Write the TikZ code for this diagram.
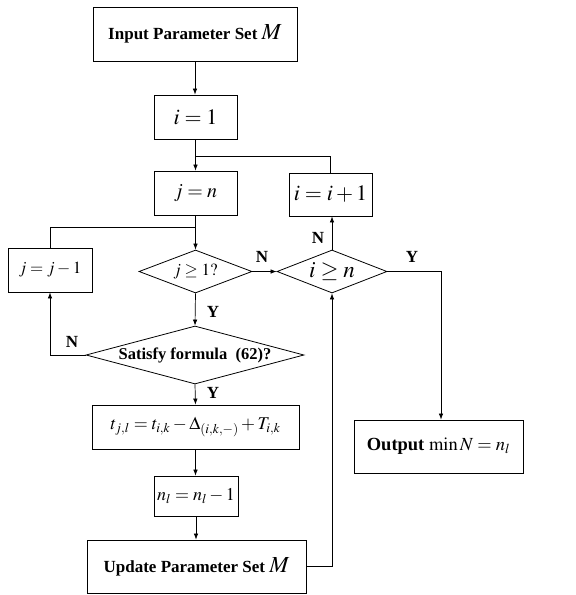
\documentclass[tikz,border=0pt]{standalone}
\usepackage{mathptmx}
\usepackage{fontspec}
\setmainfont{Liberation Serif}
\usetikzlibrary{shapes.geometric,arrows.meta}
\newcommand{\fsz}[1]{\fontsize{#1}{#1}\selectfont}
\begin{document}
\begin{tikzpicture}[x=1pt,y=-1pt,
  box/.style={draw, line width=0.8pt, rectangle, inner sep=0pt},
  dia/.style={draw, line width=0.8pt, diamond, inner sep=0pt},
  line/.style={draw, line width=0.7pt},
  arr/.style={line, -{Latex[length=6pt,width=4.5pt]}},
  lbl/.style={font=\bfseries\fsz{17}, inner sep=0pt}]
\useasboundingbox (0,0) rectangle (576,595);

\node[box, minimum width=204pt, minimum height=54pt] (input) at (195,34)
  {\fsz{17}\textbf{Input Parameter Set} \fsz{23}$M$};
\node[box, minimum width=83pt, minimum height=44pt] (i1) at (195.5,117) {\fsz{22}$i=1$};
\node[box, minimum width=83pt, minimum height=44pt] (jn) at (195.5,193) {\fsz{20}$j=n$};
\node[box, minimum width=83pt, minimum height=43pt] (iinc) at (330.5,194.5) {\fsz{22}$i=i+1$};
\node[box, minimum width=84pt, minimum height=44pt] (jm1) at (50,270) {\fsz{17}$j=j-1$};
\node[dia, minimum width=113pt, minimum height=43pt, aspect=2.6] (jge) at (195.5,271.5) {\fsz{17}$j\geq 1?$};
\node[dia, minimum width=110pt, minimum height=43pt, aspect=2.6] (ige) at (332,271.5) {\fsz{23}$i\geq n$};
\node[dia, minimum width=218pt, minimum height=58pt, aspect=3.76] (sat) at (195,355)
  {\fsz{16.5}\textbf{Satisfy formula\ \ (62)?}};
\node[box, minimum width=207pt, minimum height=44pt] (tb) at (195.5,427)
  {\fsz{18}$t_{j,l}=t_{i,k}-\Delta_{(i,k,-)}+T_{i,k}$};
\node[box, minimum width=84pt, minimum height=40pt] (nb) at (196,496) {\fsz{18}$n_l=n_l-1$};
\node[box, minimum width=219pt, minimum height=53pt] (upd) at (196.5,566.5)
  {\fsz{17}\textbf{Update Parameter Set} \fsz{23}$M$};
\node[box, minimum width=169pt, minimum height=53pt] (out) at (438.5,446.5)
  {\fsz{18.5}\textbf{Output} $\min N=n_l$};

\coordinate (m1) at (195.5,156);
\coordinate (m2) at (195.5,227);
\coordinate (c1) at (441,271.5);

\draw[arr] (input.south) -- (input.south |- i1.north);
\draw[arr] (i1.south) -- (jn.north);
\draw[line] (iinc.north) |- (m1);
\draw[arr] (jn.south) -- (jge.north);
\draw[line] (jm1.north) |- (m2);
\draw[arr] (jge.east) -- (ige.west);
\draw[arr] (ige.north) -- (ige.north |- iinc.south);
\draw[arr] (ige.east) -- (c1) -- (c1 |- out.north);
\draw[arr] (jge.south) -- (sat.north);
\draw[arr] (sat.west) -| (jm1.south);
\draw[arr] (sat.south) -- (tb.north);
\draw[arr] (tb.south) -- (tb.south |- nb.north);
\draw[arr] (nb.south) -- (nb.south |- upd.north);
\draw[arr] (upd.east) -| (ige.south);

\node[lbl] (lN1) at (262,257) {N};
\node[lbl] (lN2) at (318,238) {N};
\node[lbl] (lY1) at (412,257) {Y};
\node[lbl] (lY2) at (213,312) {Y};
\node[lbl] (lN3) at (72,342) {N};
\node[lbl] (lY3) at (213,393) {Y};
\end{tikzpicture}
\end{document}
